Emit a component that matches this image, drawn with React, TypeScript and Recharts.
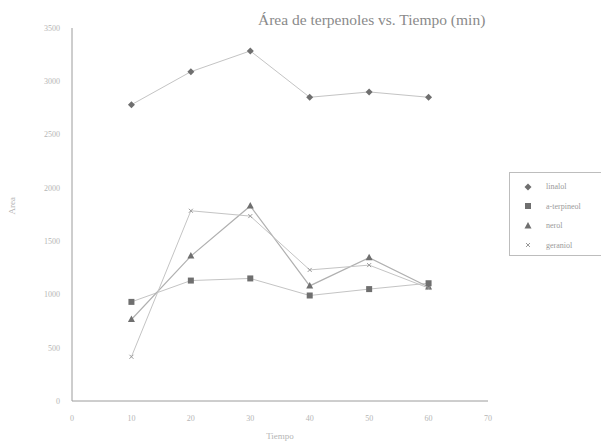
import { LineChart, Line, XAxis, YAxis } from 'recharts'

const tiempo = [10, 20, 30, 40, 50, 60]
const linalol = [2780, 3090, 3285, 2850, 2900, 2850]
const terpineol = [930, 1130, 1150, 990, 1050, 1105]
const nerol = [765, 1360, 1830, 1080, 1345, 1070]
const geraniol = [415, 1785, 1735, 1230, 1275, 1060]
const xTicks = [0, 10, 20, 30, 40, 50, 60, 70]
const yTicks = [0, 500, 1000, 1500, 2000, 2500, 3000, 3500]

const seriesNames = ['linalol', 'a-terpineol', 'nerol', 'geraniol']

const data = tiempo.map((t, i) => ({
  t,
  linalol: linalol[i],
  terpineol: terpineol[i],
  nerol: nerol[i],
  geraniol: geraniol[i]
}))

const markColor = '#6f6f6f'
const lineColor = '#c4c4c4'
const textColor = '#b5b5b5'
const font = '"Liberation Serif", "DejaVu Serif", serif'

function Mark({ kind, cx, cy }: { kind: number; cx: number; cy: number }) {
  if (kind === 0) {
    return <path d={`M${cx},${cy - 3.5}L${cx + 3.5},${cy}L${cx},${cy + 3.5}L${cx - 3.5},${cy}Z`} fill={markColor} />
  }
  if (kind === 1) {
    return <rect x={cx - 3} y={cy - 3} width={6} height={6} fill={markColor} />
  }
  if (kind === 2) {
    return <path d={`M${cx},${cy - 4}L${cx + 3.5},${cy + 2.5}L${cx - 3.5},${cy + 2.5}Z`} fill={markColor} />
  }
  return (
    <path
      d={`M${cx - 2},${cy - 2}L${cx + 2},${cy + 2}M${cx + 2},${cy - 2}L${cx - 2},${cy + 2}`}
      stroke={'#999'}
      strokeWidth={1}
    />
  )
}

const dotFor = (kind: number) => (p: any) => <Mark key={`${kind}-${p.index}`} kind={kind} cx={p.cx} cy={p.cy} />

function LegendBox() {
  return (
    <div
      style={{
        position: 'absolute',
        left: 509,
        top: 172,
        border: '1px solid #bdbdbd',
        width: 94,
        height: 84,
        boxSizing: 'border-box',
        padding: '4px 0 0 13px',
        fontFamily: font,
        fontSize: 8,
        color: '#9a9a9a'
      }}
    >
      {seriesNames.map((n, i) => (
        <div key={n} style={{ display: 'flex', alignItems: 'center', height: 19.5 }}>
          <svg width={14} height={10}>
            <Mark kind={i} cx={5} cy={5} />
          </svg>
          <span style={{ marginLeft: 9 }}>{n}</span>
        </div>
      ))}
    </div>
  )
}

export default function App() {
  const tick = { fontSize: 8, fill: textColor, fontFamily: font }
  return (
    <div style={{ position: 'absolute', left: 0, top: 0, width: 601, height: 445, background: '#fff' }}>
      <div
        style={{
          position: 'absolute',
          left: 258,
          top: 11,
          fontFamily: font,
          fontSize: 15.5,
          color: '#8a8a8a',
          whiteSpace: 'nowrap'
        }}
      >
        Área de terpenoles vs. Tiempo (min)
      </div>
      <LineChart width={601} height={445} data={data} margin={{ top: 28, right: 113, bottom: 14, left: 32 }}>
        <XAxis
          dataKey='t'
          type='number'
          domain={[0, 70]}
          ticks={xTicks}
          axisLine={{ stroke: '#9c9c9c' }}
          tickLine={false}
          tick={tick}
          height={30}
          tickMargin={8}
          label={{ value: 'Tiempo', position: 'insideBottom', offset: -8, fontSize: 9, fill: textColor, fontFamily: font }}
        />
        <YAxis
          type='number'
          domain={[0, 3500]}
          ticks={yTicks}
          axisLine={{ stroke: '#9c9c9c' }}
          tickLine={false}
          tick={tick}
          width={40}
          tickMargin={6}
          label={{ value: 'Area', angle: -90, position: 'insideLeft', offset: -20, fontSize: 9, fill: textColor, fontFamily: font }}
        />
        <Line dataKey='linalol' stroke={lineColor} strokeWidth={1} dot={dotFor(0)} isAnimationActive={false} />
        <Line dataKey='terpineol' stroke={lineColor} strokeWidth={1} dot={dotFor(1)} isAnimationActive={false} />
        <Line dataKey='nerol' stroke={'#b0b0b0'} strokeWidth={1.2} dot={dotFor(2)} isAnimationActive={false} />
        <Line dataKey='geraniol' stroke={lineColor} strokeWidth={1} dot={dotFor(3)} isAnimationActive={false} />
      </LineChart>
      <LegendBox />
    </div>
  )
}
